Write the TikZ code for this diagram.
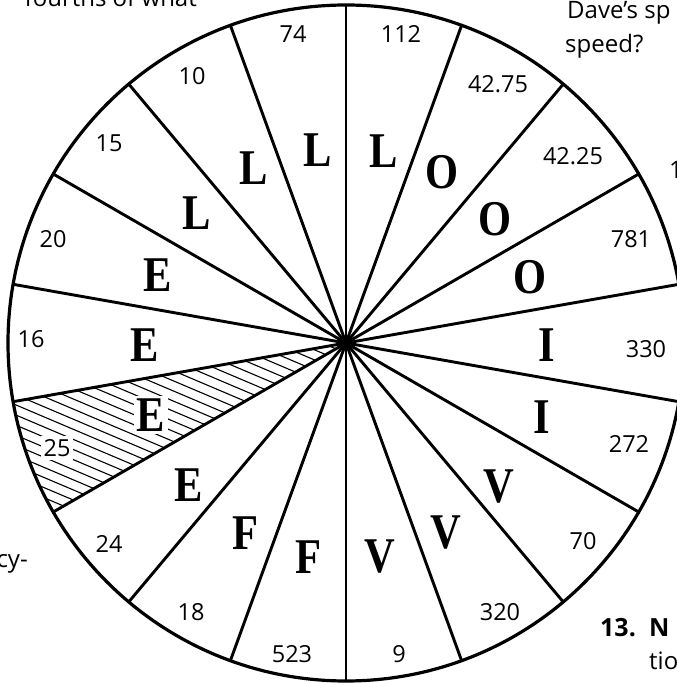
\documentclass[tikz,border=0pt]{standalone}
\usepackage{fontspec}
\setmainfont{Open Sans}
\newfontfamily\letterfont{Liberation Serif}
\usetikzlibrary{calc}
\tikzset{
  num/.style={font=\fontsize{23.5}{23.5}\selectfont, inner sep=0pt},
  let/.style={font=\letterfont\bfseries\fontsize{50}{50}\selectfont, inner sep=0pt},
  spoke/.style={line width=2.9pt},
  rim/.style={line width=3.2pt},
  hatchline/.style={line width=1.1pt},
  pagetext/.style={font=\fontsize{24}{28}\selectfont, inner sep=0pt},
  cleared/.style={fill=white, inner sep=3pt},
}
\newcommand{\Lt}[1]{\scalebox{0.85}[1]{#1}}
\begin{document}
\begin{tikzpicture}[x=1pt,y=1pt]
\useasboundingbox (0,0) rectangle (677,683);
\clip (0,0) rectangle (677,683);
\coordinate (c) at (346,340);
% hatched sector
\begin{scope}
  \clip (c) -- ($(c)+(-170:338)$) arc[start angle=-170,end angle=-150,radius=338] -- cycle;
  \foreach \i in {-34,...,2}
    \draw[hatchline] ($(c)+(67:\i*9.3)+(157:420)$) -- ++(-23:840);
\end{scope}
% numbers
\node[num] (n74) at (293,649) {74};
\node[num] (n112) at (401,649) {112};
\node[num] (n4275) at (498,599) {42.75};
\node[num] (n4225) at (573,527) {42.25};
\node[num] (n781) at (631,444) {781};
\node[num] (n330) at (646,334) {330};
\node[num] (n272) at (629,239) {272};
\node[num] (n70) at (583,142) {70};
\node[num] (n320) at (500,71) {320};
\node[num] (n9) at (399,29) {9};
\node[num] (n523) at (292,29) {523};
\node[num] (n18) at (191,71) {18};
\node[num] (n24) at (109,139) {24};
\node[num, cleared] (n25) at (57,235) {25};
\node[num] (n16) at (31,344) {16};
\node[num] (n20) at (53,444) {20};
\node[num] (n15) at (109,540) {15};
\node[num] (n10) at (192,607) {10};
% letters
\node[let] (l74) at (318,533) {\Lt{L}};
\node[let] (l112) at (384,532) {\Lt{L}};
\node[let] (l10) at (254,515) {\Lt{L}};
\node[let] (l4275) at (442,511) {\Lt{O}};
\node[let] (l15) at (197,470) {\Lt{L}};
\node[let] (l4225) at (495,464) {\Lt{O}};
\node[let] (l20) at (158,408) {\Lt{E}};
\node[let] (l781) at (530,406) {\Lt{O}};
\node[let] (l16) at (145,338) {\Lt{E}};
\node[let] (l330) at (547,338) {\Lt{I}};
\node[let, cleared] (l25) at (151,268) {\Lt{E}};
\node[let] (l272) at (542,266) {\Lt{I}};
\node[let] (l24) at (189,198) {\Lt{E}};
\node[let] (l70) at (499,196) {\Lt{V}};
\node[let] (l18) at (245,150) {\Lt{F}};
\node[let] (l320) at (446,150) {\Lt{V}};
\node[let] (l523) at (308,126) {\Lt{F}};
\node[let] (l9) at (380,126) {\Lt{V}};
% spokes and rim
\foreach \k in {0,...,17} {
  \coordinate (p\k) at ($(c)+({90-20*\k}:338)$);
  \draw[spoke] (c) -- (p\k);
}
\draw[rim] (c) circle[radius=338];
% surrounding page text (cut off, as in the reference)
\node[pagetext, anchor=base east] (t1) at (197,676) {fourths of what};
\node[pagetext, anchor=base west] (t2) at (567,664) {Dave’s sp};
\node[pagetext, anchor=base west] (t3) at (565,630) {speed?};
\node[pagetext, anchor=base west] (t4) at (669,504) {1};
\node[pagetext, anchor=base east] (t5) at (28,115) {cy-};
\node[pagetext, font=\bfseries\fontsize{25}{28}\selectfont, anchor=base west] (t6) at (600,46) {13.};
\node[pagetext, font=\bfseries\fontsize{25}{28}\selectfont, anchor=base west] (t7) at (649,46) {N};
\node[pagetext, anchor=base west] (t8) at (649,13) {tio};
\end{tikzpicture}
\end{document}
